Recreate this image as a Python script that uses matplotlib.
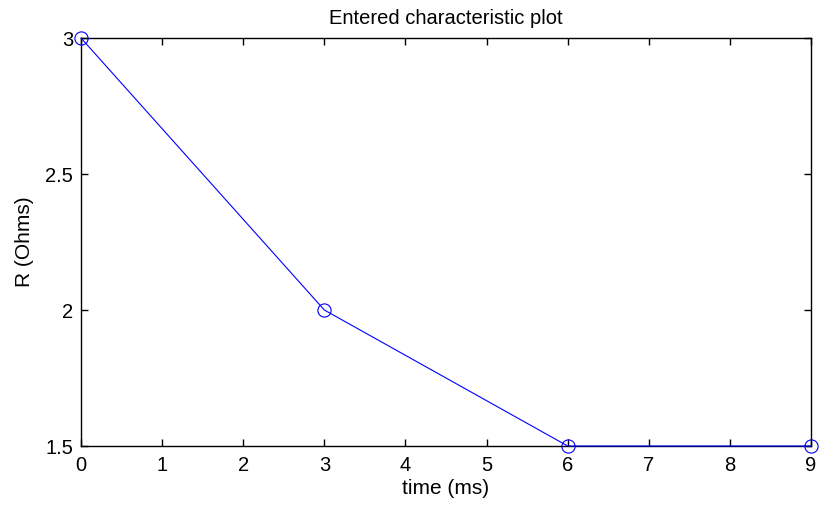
import matplotlib.pyplot as plt

time_ms = [0, 3, 6, 9]
resistance = [3, 2, 1.5, 1.5]
x_ticks = [0, 1, 2, 3, 4, 5, 6, 7, 8, 9]
y_ticks = [1.5, 2, 2.5, 3]

plt.rcParams["font.family"] = ["Liberation Sans", "DejaVu Sans"]

fig = plt.figure(figsize=(8.19, 5.05), dpi=100)
ax = fig.add_axes([81 / 819, 59 / 505, 730 / 819, 408 / 505])

ax.plot(time_ms, resistance, color="blue", linewidth=0.8, marker="o",
        markersize=9.5, markerfacecolor="none", markeredgecolor="blue",
        markeredgewidth=0.8, clip_on=False, zorder=3)

ax.set_xlim(0, 9)
ax.set_ylim(1.5, 3)
ax.set_xticks(x_ticks)
ax.set_yticks(y_ticks)
ax.set_yticklabels(["1.5", "2", "2.5", "3"])
ax.tick_params(direction="in", top=True, right=True, length=5, width=1,
               labelsize=14.5)
ax.tick_params(axis="x", pad=7.5)
ax.tick_params(axis="y", pad=5.5)
for s in ax.spines.values():
    s.set_linewidth(1)

ax.set_xlabel("time (ms)", fontsize=15, labelpad=2.5)
ax.set_ylabel("R (Ohms)", fontsize=15, labelpad=8)
ax.set_title("Entered characteristic plot", fontsize=14.5, pad=10)

fig.savefig("out.png", dpi=100)
